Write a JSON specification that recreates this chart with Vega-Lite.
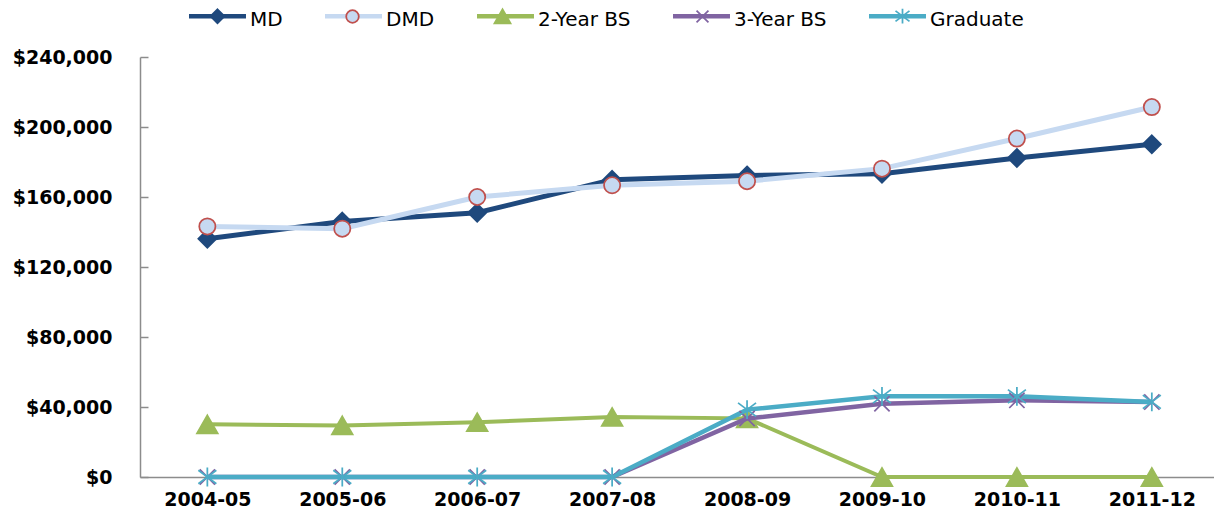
{
  "$schema": "https://vega.github.io/schema/vega-lite/v6.json",
  "width": 1074,
  "height": 420,
  "autosize": {"type": "none"},
  "padding": {"left": 140, "top": 57, "right": 0, "bottom": 43},
  "background": "white",
  "config": {"view": {"stroke": null}, "font": "DejaVu Sans"},
  "data": {
    "values": [
      {"year": "2004-05", "series": "MD", "value": 136200},
      {"year": "2005-06", "series": "MD", "value": 146000},
      {"year": "2006-07", "series": "MD", "value": 151000},
      {"year": "2007-08", "series": "MD", "value": 169800},
      {"year": "2008-09", "series": "MD", "value": 172300},
      {"year": "2009-10", "series": "MD", "value": 173300},
      {"year": "2010-11", "series": "MD", "value": 182300},
      {"year": "2011-12", "series": "MD", "value": 190100},
      {"year": "2004-05", "series": "DMD", "value": 143200},
      {"year": "2005-06", "series": "DMD", "value": 141900},
      {"year": "2006-07", "series": "DMD", "value": 160000},
      {"year": "2007-08", "series": "DMD", "value": 166700},
      {"year": "2008-09", "series": "DMD", "value": 169000},
      {"year": "2009-10", "series": "DMD", "value": 176200},
      {"year": "2010-11", "series": "DMD", "value": 193400},
      {"year": "2011-12", "series": "DMD", "value": 211400},
      {"year": "2004-05", "series": "2-Year BS", "value": 30100},
      {"year": "2005-06", "series": "2-Year BS", "value": 29500},
      {"year": "2006-07", "series": "2-Year BS", "value": 31300},
      {"year": "2007-08", "series": "2-Year BS", "value": 34300},
      {"year": "2008-09", "series": "2-Year BS", "value": 33500},
      {"year": "2009-10", "series": "2-Year BS", "value": 0},
      {"year": "2010-11", "series": "2-Year BS", "value": 0},
      {"year": "2011-12", "series": "2-Year BS", "value": 0},
      {"year": "2004-05", "series": "3-Year BS", "value": 0},
      {"year": "2005-06", "series": "3-Year BS", "value": 0},
      {"year": "2006-07", "series": "3-Year BS", "value": 0},
      {"year": "2007-08", "series": "3-Year BS", "value": 0},
      {"year": "2008-09", "series": "3-Year BS", "value": 33400},
      {"year": "2009-10", "series": "3-Year BS", "value": 41900},
      {"year": "2010-11", "series": "3-Year BS", "value": 43800},
      {"year": "2011-12", "series": "3-Year BS", "value": 42800},
      {"year": "2004-05", "series": "Graduate", "value": 0},
      {"year": "2005-06", "series": "Graduate", "value": 0},
      {"year": "2006-07", "series": "Graduate", "value": 0},
      {"year": "2007-08", "series": "Graduate", "value": 0},
      {"year": "2008-09", "series": "Graduate", "value": 38500},
      {"year": "2009-10", "series": "Graduate", "value": 46100},
      {"year": "2010-11", "series": "Graduate", "value": 46100},
      {"year": "2011-12", "series": "Graduate", "value": 42900}
    ]
  },
  "encoding": {
    "x": {
      "field": "year", "type": "ordinal",
      "scale": {"type": "point", "padding": 0.48, "align": 0.52},
      "axis": {"title": null, "labelAngle": 0, "ticks": false, "grid": false, "domainColor": "#8c8c8c", "domainWidth": 1.5, "labelFont": "DejaVu Sans", "labelFontWeight": "bold", "labelFontSize": 19, "labelColor": "#000000", "labelPadding": 13}
    },
    "y": {
      "field": "value", "type": "quantitative",
      "scale": {"domain": [0, 240000], "nice": false, "zero": true},
      "axis": {"title": null, "values": [0, 40000, 80000, 120000, 160000, 200000, 240000], "format": "$,.0f", "grid": false, "tickSize": -8, "tickColor": "#8c8c8c", "tickWidth": 1.5, "domainColor": "#8c8c8c", "domainWidth": 1.5, "labelFont": "DejaVu Sans", "labelFontWeight": "bold", "labelFontSize": 19, "labelColor": "#000000", "labelPadding": 36}
    }
  },
  "layer": [
    {
      "transform": [{"filter": {"field": "series", "oneOf": ["MD", "DMD"]}}],
      "mark": {"type": "line", "strokeWidth": 5},
      "encoding": {
        "color": {
          "field": "series", "type": "nominal",
          "scale": {"domain": ["MD", "DMD", "2-Year BS", "3-Year BS", "Graduate"], "range": ["#1F497D", "#C6D9F1", "#9BBB59", "#8064A2", "#4BACC6"]},
          "legend": {"title": null, "orient": "none", "legendX": 47, "legendY": -51, "direction": "horizontal", "symbolType": "M-4.07,0L4.07,0", "symbolSize": 196, "symbolStrokeWidth": 4.5, "symbolOffset": 20.5, "symbolOpacity": 1, "labelOffset": 22.5, "labelFont": "DejaVu Sans", "labelFontSize": 20, "labelColor": "#000000", "columnPadding": 33, "padding": 0, "offset": 0, "encode": {"labels": {"update": {"dy": {"value": 3.5}}}}}
        }
      }
    },
    {
      "transform": [{"filter": {"field": "series", "oneOf": ["MD", "DMD"]}}],
      "mark": {"type": "point", "filled": true, "size": 324, "opacity": 1, "strokeWidth": 1.75},
      "encoding": {
        "shape": {
          "field": "series", "type": "nominal",
          "scale": {"domain": ["MD", "DMD", "2-Year BS", "3-Year BS", "Graduate", ""], "range": ["M-4.27,0M9.184,0M0,-1L1,0L0,1L-1,0Z", "M-4.27,0M11.384,0M0.9,0A0.9,0.9,0,1,1,-0.9,0A0.9,0.9,0,1,1,0.9,0Z", "M-4.27,0M18.476,0M0,-1L1.15,1L-1.15,1Z", "M-4.27,0M18.476,0M-0.85,-0.85L0.85,0.85M-0.85,0.85L0.85,-0.85", "M-4.27,0M17.911,0M-1,-0.75L1,0.75M-1,0.75L1,-0.75M0,-1.05L0,1.05", "M0,0"]},
          "legend": {"title": null, "orient": "none", "legendX": 47, "legendY": -51, "direction": "horizontal", "symbolSize": 196, "symbolStrokeWidth": 1.75, "symbolOffset": 20.5, "symbolOpacity": 1, "labelOffset": 22.5, "labelFont": "DejaVu Sans", "labelFontSize": 20, "labelColor": "#000000", "labelExpr": "''", "columnPadding": 33, "padding": 0, "offset": 0}
        },
        "fill": {
          "field": "series", "type": "nominal",
          "scale": {"domain": ["MD", "DMD", "2-Year BS", "3-Year BS", "Graduate", ""], "range": ["#1F497D", "#C6D9F1", "#9BBB59", "#8064A2", "#4BACC6", "transparent"]},
          "legend": {"title": null, "orient": "none", "legendX": 47, "legendY": -51, "direction": "horizontal", "symbolSize": 196, "symbolStrokeWidth": 1.75, "symbolOffset": 20.5, "symbolOpacity": 1, "labelOffset": 22.5, "labelFont": "DejaVu Sans", "labelFontSize": 20, "labelColor": "#000000", "labelExpr": "''", "columnPadding": 33, "padding": 0, "offset": 0}
        },
        "stroke": {
          "field": "series", "type": "nominal",
          "scale": {"domain": ["MD", "DMD", "2-Year BS", "3-Year BS", "Graduate", ""], "range": ["#1F497D", "#C0504D", "#9BBB59", "#8064A2", "#4BACC6", "transparent"]},
          "legend": {"title": null, "orient": "none", "legendX": 47, "legendY": -51, "direction": "horizontal", "symbolSize": 196, "symbolStrokeWidth": 1.75, "symbolOffset": 20.5, "symbolOpacity": 1, "labelOffset": 22.5, "labelFont": "DejaVu Sans", "labelFontSize": 20, "labelColor": "#000000", "labelExpr": "''", "columnPadding": 33, "padding": 0, "offset": 0}
        }
      }
    },
    {
      "transform": [{"filter": {"field": "series", "equal": "2-Year BS"}}],
      "mark": {"type": "line", "strokeWidth": 4},
      "encoding": {"color": {"field": "series", "type": "nominal"}}
    },
    {
      "transform": [{"filter": {"field": "series", "equal": "2-Year BS"}}],
      "mark": {"type": "point", "filled": true, "size": 324, "opacity": 1, "strokeWidth": 1.75},
      "encoding": {
        "shape": {"field": "series", "type": "nominal"},
        "fill": {"field": "series", "type": "nominal"},
        "stroke": {"field": "series", "type": "nominal"}
      }
    },
    {
      "transform": [{"filter": {"field": "series", "oneOf": ["3-Year BS", "Graduate"]}}],
      "mark": {"type": "line", "strokeWidth": 4.5},
      "encoding": {"color": {"field": "series", "type": "nominal"}}
    },
    {
      "transform": [{"filter": {"field": "series", "oneOf": ["3-Year BS", "Graduate"]}}],
      "mark": {"type": "point", "filled": true, "size": 324, "opacity": 1, "strokeWidth": 1.75},
      "encoding": {
        "shape": {"field": "series", "type": "nominal"},
        "fill": {"field": "series", "type": "nominal"},
        "stroke": {"field": "series", "type": "nominal"}
      }
    }
  ]
}
